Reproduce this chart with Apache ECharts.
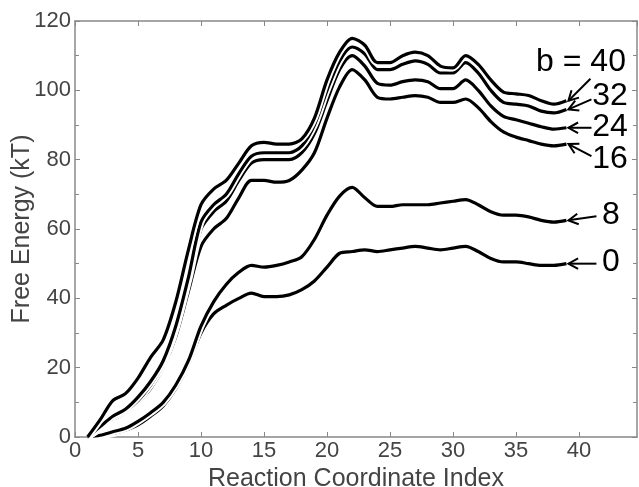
<!DOCTYPE html>
<html><head><meta charset="utf-8">
<script src="https://cdn.jsdelivr.net/npm/echarts@6/dist/echarts.min.js"></script>
<style>html,body{margin:0;padding:0;background:#fff}#c{width:639px;height:487px}</style>
</head><body><div id="c"></div>
<script>
const xIndex = [1,2,3,4,5,6,7,8,9,10,11,12,13,14,15,16,17,18,19,20,21,22,23,24,25,26,27,28,29,30,31,32,33,34,35,36,37,38,39];
const b40 = [0,5,10.5,12.5,17,23,28,39,54,67,71.5,74,79,84,85,84.5,84.5,86,92,103,111,115,113,108,108,110,111,110,107,106.5,110,107.5,103,99.5,99,98.5,97,96,97];
const b32 = [0,3,6,8,11.5,16,22,32,46,62,67,70,76,81,82,82,82,84,90,100,108.5,112.5,110.5,106,106,107.5,108.5,107.5,105,105,108,105,100,96.5,96,95.5,94,93.5,94.5];
const b24 = [0,2.5,5.5,7.5,10.5,15,21,31,45,60,65,68,74,79,80,80,80,82,87.5,97,106,110,107,102,101.5,102.5,103,102.5,100.5,100.5,103,100,95.5,92.5,91.5,90.5,89.5,88.8,89.2];
const b16 = [0,2.5,5,7,10,14,20,29,42,55,60,63,69,74,74,73.5,74,77,82,92,101,106,103,98,97.5,98,98.5,98,96.5,96.5,97.5,95,91,88,86.5,85.5,84.5,84,84.5];
const b8 = [0,0.5,1.5,2.5,4.5,7,10,15,22,32,39,44,47.5,49.5,49,49.5,50.5,52,57,64,69.5,72,69,66.5,66.5,67,67,67,67.5,68,68.5,67,65,64,64,63.5,62.5,62,62.5];
const b0 = [0,0.3,1,2,3.5,6,9,14,21,30,35.5,38,40,41.5,40.5,40.5,41,42.5,45,49,53,53.5,54,53.5,54,54.5,55,54.5,54,54.5,55,53.5,51.5,50.5,50.5,50,49.5,49.5,50];
const seriesNames = ['0','8','16','24','32','40'];
const seriesData = [b0,b8,b16,b24,b32,b40];
const labelTexts = ['0','8','16','24','32','b = 40'];
const xTicks = [0,5,10,15,20,25,30,35,40];
const yTicks = [0,20,40,60,80,100,120];

const FONT = 'Liberation Sans, Arial, Helvetica, sans-serif';
const chart = echarts.init(document.getElementById('c'));
const series = [];
seriesData.forEach((d, i) => {
  const pts = xIndex.map((x, k) => [x, d[k]]);
  series.push({type:'line', name:'halo'+seriesNames[i], data:pts, showSymbol:false, smooth:0.3, silent:true,
    lineStyle:{color:'#fff', width:7}, z:10+2*i});
  series.push({type:'line', name:seriesNames[i], data:pts, showSymbol:false, smooth:0.3, silent:true,
    lineStyle:{color:'#000', width:3.2}, z:11+2*i});
});
const axisCol = '#888';
chart.setOption({
  animation:false,
  backgroundColor:'#fff',
  grid: {left:75, top:21, right:2, bottom:50, containLabel:false, outerBoundsMode:'none'},
  xAxis: [{
    type:'value', min:0, max:44.6, interval:5,
    name:'Reaction Coordinate Index', nameLocation:'middle', nameGap:30, nameMoveOverlap:false,
    nameTextStyle:{fontFamily:FONT, fontSize:25, color:'#444'},
    axisLine:{onZero:false, lineStyle:{color:axisCol, width:1.5}},
    axisTick:{inside:true, length:5, lineStyle:{color:axisCol}},
    axisLabel:{fontFamily:FONT, fontSize:22, color:'#444', margin:3, showMaxLabel:false,
      formatter: v => xTicks.includes(v) ? String(v) : ''},
    splitLine:{show:false}
  },{
    type:'value', min:0, max:44.6, interval:5, position:'top',
    axisLine:{onZero:false, lineStyle:{color:axisCol, width:1.5}},
    axisTick:{show:true, inside:true, length:5, lineStyle:{color:axisCol}},
    axisLabel:{show:false}, splitLine:{show:false}
  }],
  yAxis: [{
    type:'value', min:0, max:120, interval:20,
    name:'Free Energy (kT)', nameLocation:'middle', nameGap:40, nameMoveOverlap:false,
    nameTextStyle:{fontFamily:FONT, fontSize:25, color:'#444'},
    axisLine:{show:true, onZero:false, lineStyle:{color:axisCol, width:1.5}},
    axisTick:{show:true, inside:true, length:5, lineStyle:{color:axisCol}},
    minorTick:{show:true, splitNumber:2, length:4, lineStyle:{color:axisCol}},
    axisLabel:{fontFamily:FONT, fontSize:22, color:'#444', margin:4,
      formatter: v => yTicks.includes(v) ? String(v) : ''},
    splitLine:{show:false}
  },{
    type:'value', min:0, max:120, interval:20, position:'right',
    axisLine:{show:true, onZero:false, lineStyle:{color:axisCol, width:1.5}},
    axisTick:{show:true, inside:true, length:5, lineStyle:{color:axisCol}},
    minorTick:{show:true, splitNumber:2, length:4, lineStyle:{color:axisCol}},
    axisLabel:{show:false}, splitLine:{show:false}
  }],
  series: series
});

const labelPos = [
  {x:611, y:262, tail:[28, 0]},
  {x:611, y:215, tail:[28, -4]},
  {x:610, y:159, tail:[23, 12]},
  {x:610, y:127, tail:[23, 0]},
  {x:610, y:96,  tail:[23, -10]},
  {x:581, y:62,  tail:[22, -22]}
];
const g = [];
seriesData.forEach((d, i) => {
  const last = xIndex.length - 1;
  const tip = chart.convertToPixel({xAxisIndex:0, yAxisIndex:0}, [xIndex[last], d[last]]);
  tip[0] += 2;
  const lp = labelPos[i];
  const tail = [tip[0] + lp.tail[0], tip[1] + lp.tail[1]];
  const ang = Math.atan2(tail[1]-tip[1], tail[0]-tip[0]);
  const hl = 11, ha = 0.5;
  const h1 = [tip[0] + hl*Math.cos(ang+ha), tip[1] + hl*Math.sin(ang+ha)];
  const h2 = [tip[0] + hl*Math.cos(ang-ha), tip[1] + hl*Math.sin(ang-ha)];
  const st = {stroke:'#000', lineWidth:2};
  g.push({type:'line', shape:{x1:tail[0], y1:tail[1], x2:tip[0], y2:tip[1]}, style:st, z:100});
  g.push({type:'polyline', shape:{points:[h1, tip, h2]}, style:Object.assign({fill:null}, st), z:100});
  g.push({type:'text', x:lp.x, y:lp.y, style:{text:labelTexts[i], fontFamily:FONT, fontSize:32, fill:'#000', align:'center', verticalAlign:'middle'}, z:100});
});
chart.setOption({graphic: g});
</script>
</body></html>
